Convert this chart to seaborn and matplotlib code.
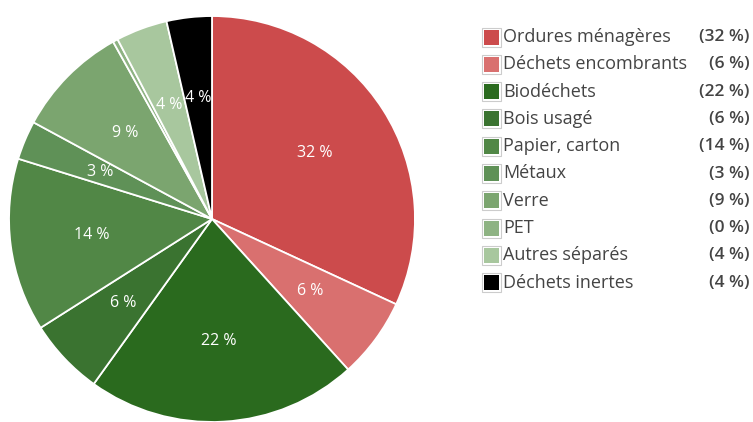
import matplotlib.pyplot as plt
import matplotlib.patches as mpatches
import seaborn as sns

categories = ['Ordures ménagères', 'Déchets encombrants', 'Biodéchets', 'Bois usagé',
              'Papier, carton', 'Métaux', 'Verre', 'PET', 'Autres séparés', 'Déchets inertes']
shares = [31.9, 6.4, 21.6, 6.1, 13.8, 3.1, 9.0, 0.4, 4.1, 3.6]
colors = ['#cc4b4c', '#d9706f', '#2a6a1e', '#3a7330', '#518746',
          '#5f9157', '#7ba56f', '#8eb383', '#a8c79e', '#000000']

sns.set_theme(style="white")
plt.rcParams['font.family'] = ['Open Sans', 'DejaVu Sans']

palette = sns.color_palette(colors)
fig = plt.figure(figsize=(7.53, 4.22), dpi=100)

# pie
ax = fig.add_axes([7/753, -2/422, 410/753, 410/422])
pct_labels = ['{:.0f} %'.format(v) if round(v) > 0 else '' for v in shares]
wedges, texts = ax.pie(shares, colors=palette, startangle=90, counterclock=False,
                       labels=pct_labels, labeldistance=0.6, radius=1,
                       wedgeprops={'edgecolor': 'white', 'linewidth': 1.3})
for t in texts:
    t.set_color('white')
    t.set_fontsize(11.5)
    t.set_ha('center')
    t.set_va('center')
ax.set_xlim(-1.01, 1.01)
ax.set_ylim(-1.01, 1.01)
ax.set_aspect('equal')
ax.axis('off')

# legend drawn by hand: square, name, share
lax = fig.add_axes([0, 0, 1, 1])
lax.set_xlim(0, 753)
lax.set_ylim(422, 0)
lax.axis('off')
row0, step = 37, 27.3
for i, (name, v) in enumerate(zip(categories, shares)):
    y = row0 + i * step
    lax.add_patch(mpatches.Rectangle((482, y - 9.5), 19, 19, facecolor='white',
                                     edgecolor='#cccccc', linewidth=0.8))
    lax.add_patch(mpatches.Rectangle((484, y - 7.5), 15, 15, facecolor=palette[i],
                                     edgecolor='none'))
    lax.text(503, y, name, fontsize=13, color='#444444', va='center', ha='left')
    lax.text(750, y, '({:.0f} %)'.format(v), fontsize=12.5, color='#444444',
             va='center', ha='right', fontweight='semibold')

plt.savefig('out.png', dpi=100)
